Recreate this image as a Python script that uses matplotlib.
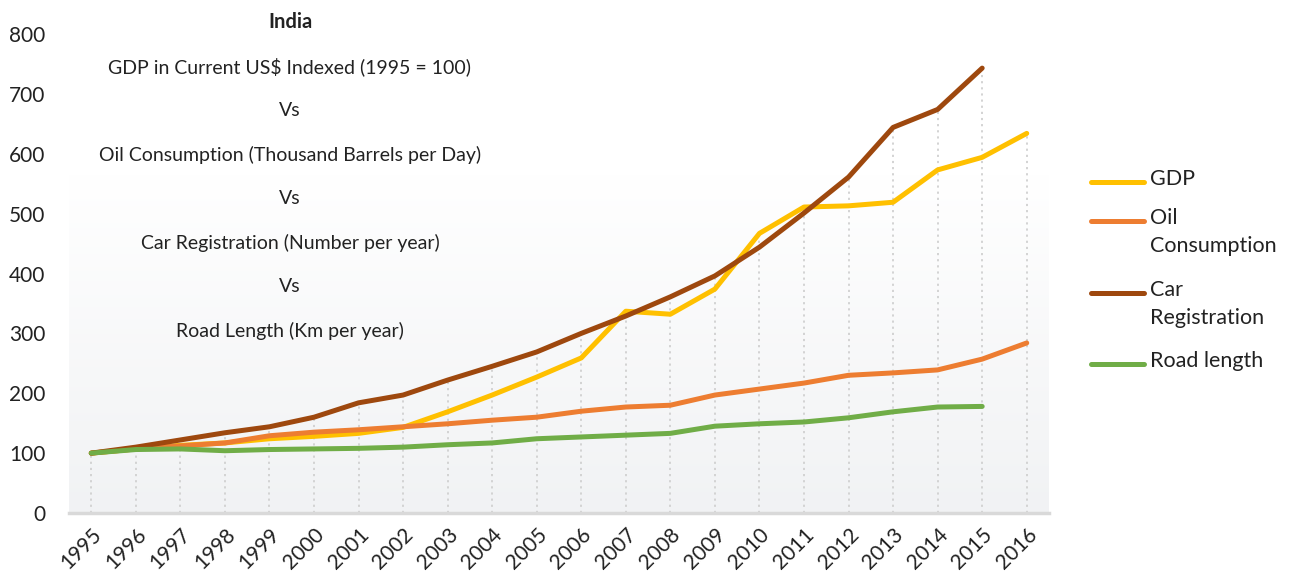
import numpy as np
import matplotlib
matplotlib.use("Agg")
import matplotlib.pyplot as plt
from matplotlib.lines import Line2D

# India: indexed series, 1995 = 100
years = list(range(1995, 2017))
gdp = [100, 107, 113, 117, 124, 128, 133, 143, 169, 197, 227, 259, 337, 332,
       374, 467, 511, 513, 519, 573, 594, 634]
oil = [100, 107, 112, 117, 129, 135, 139, 144, 149, 155, 160, 170, 177, 180,
       197, 207, 217, 230, 234, 239, 257, 284]
car = [100, 110, 122, 134, 144, 160, 184, 197, 222, 245, 269, 300, 329, 361,
       396, 444, 501, 561, 644, 674, 743]
road = [100, 106, 107, 104, 106, 107, 108, 110, 114, 117, 124, 127, 130, 133,
        145, 149, 152, 159, 169, 177, 178]

names = ["GDP", "Oil\nConsumption", "Car\nRegistration", "Road length"]
colors = ["#FFC000", "#ED7D31", "#9E480E", "#70AD47"]
series = [gdp, oil, car, road]

title_lines = ["GDP in Current US$ Indexed (1995 = 100)", "Vs",
               "Oil Consumption (Thousand Barrels per Day)", "Vs",
               "Car Registration (Number per year)", "Vs",
               "Road Length (Km per year)"]

plt.rcParams['font.family'] = ['Lato', 'DejaVu Sans']
W, H = 1291, 582
fig = plt.figure(figsize=(W / 100, H / 100), dpi=100)
ax = fig.add_axes([69 / W, 69 / H, (1049 - 69) / W, (513 - 34) / H])

# soft gradient background (white at top, light grey at bottom)
t = np.linspace(0, 1, 256)
grad = np.ones((256, 1, 3))
grad[:, 0, 0] = 1 - t * (1 - 0.945)
grad[:, 0, 1] = 1 - t * (1 - 0.950)
grad[:, 0, 2] = 1 - t * (1 - 0.957)
ax.imshow(grad, extent=[1994.5, 2016.5, 0, 565], aspect='auto', origin='upper', zorder=0)

# drop lines from highest value to axis
for i, yr in enumerate(years):
    top = max(s[i] for s in series if i < len(s))
    ax.vlines(yr, 0, top, colors="#d0d0d0", linestyles=(0, (1.2, 2.2)), linewidth=1.3, zorder=1)

for s, c, n in zip(series, colors, names):
    ax.plot(years[:len(s)], s, color=c, linewidth=3.6, solid_capstyle='round',
            solid_joinstyle='round', zorder=3, label=n)

ax.set_xlim(1994.5, 2016.5)
ax.set_ylim(0, 800)
ax.set_yticks(range(0, 801, 100))
ax.set_xticks(years)
ax.set_xticklabels([str(y) for y in years], rotation=45, ha='right', rotation_mode='anchor')
ax.tick_params(axis='both', length=0, labelsize=15, colors="#222222")
ax.tick_params(axis='y', pad=17)
ax.tick_params(axis='x', pad=8)
for sp in ['top', 'right', 'left']:
    ax.spines[sp].set_visible(False)
ax.spines['bottom'].set_color("#d9d9d9")
ax.spines['bottom'].set_linewidth(2.5)
ax.spines['bottom'].set_zorder(2)

# title block over the upper left of the plot
fig.text(290 / W, 1 - 22 / H, "India", ha='center', va='center', fontsize=14.5,
         fontweight='bold', color="#222222")
for k, line in enumerate(title_lines):
    fig.text(290 / W, 1 - (67 + 44 * k) / H, line, ha='center', va='center',
             fontsize=14, color="#222222")

# legend drawn by hand so that the key sits on the first text line
leg_y = [182, 221, 293, 364]
for n, c, y in zip(names, colors, leg_y):
    fig.add_artist(Line2D([1091 / W, 1144 / W], [1 - y / H, 1 - y / H], color=c,
                          linewidth=3.6, solid_capstyle='round', transform=fig.transFigure))
    fig.text(1150 / W, 1 - (y - 13) / H, n, ha='left', va='top', fontsize=15.5,
             color="#222222", linespacing=1.5)

fig.savefig("out.png", dpi=100)
